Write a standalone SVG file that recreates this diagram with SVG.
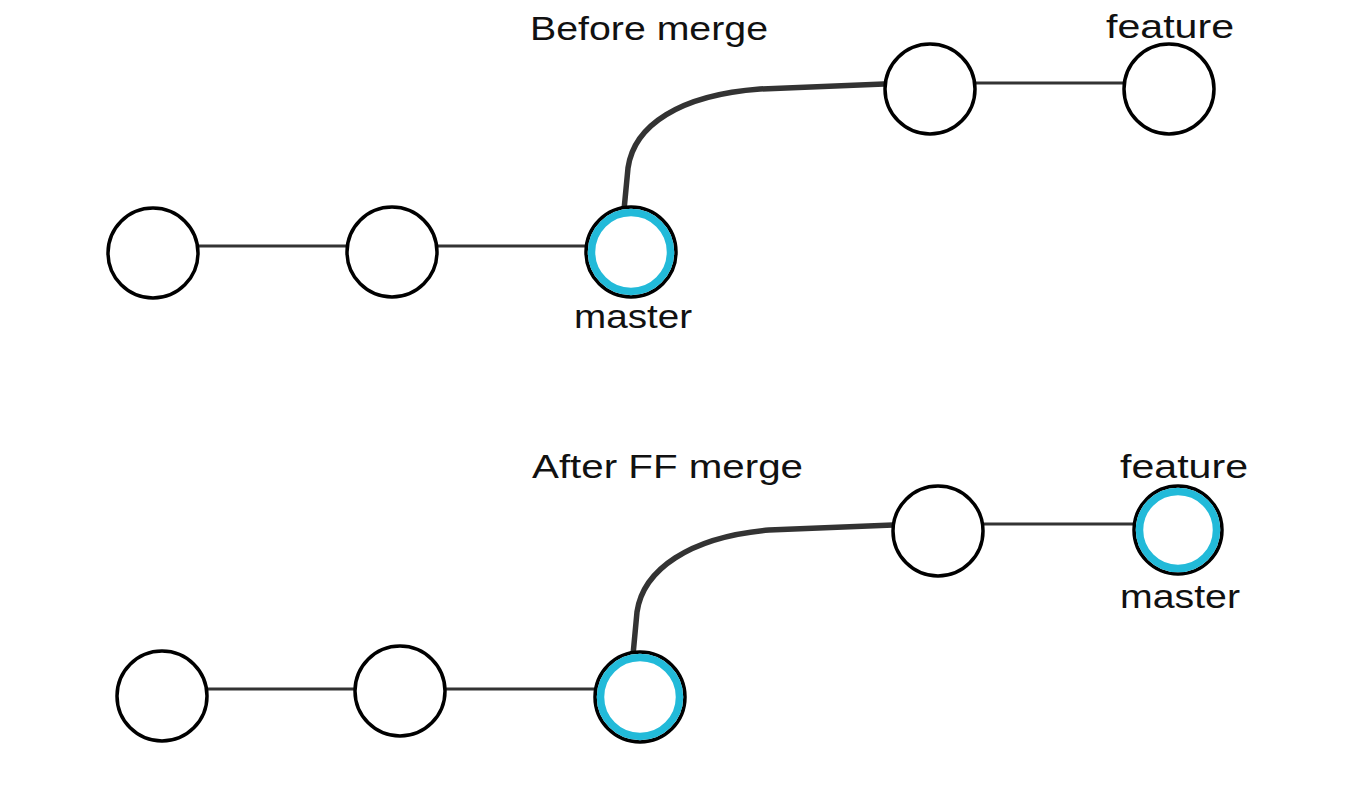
<svg xmlns="http://www.w3.org/2000/svg" width="1349" height="797" viewBox="0 0 1349 797">
<style>
.edge{fill:none;stroke:#333;stroke-width:3;stroke-linecap:round}
.branch{fill:none;stroke:#333;stroke-width:5.5;stroke-linecap:round}
.commit{fill:#fff;stroke:#000;stroke-width:3.5}
.ring{fill:none;stroke:#22bad9;stroke-width:7.5}
.lbl{font-family:"Liberation Sans",Arial,sans-serif;font-size:34px;fill:#111}
</style>
<rect width="1349" height="797" fill="#fff"/>
<g id="connectors">
<line class="edge" x1="198" y1="246" x2="347" y2="246"/>
<line class="edge" x1="437" y1="246" x2="585" y2="246"/>
<line class="edge" x1="976" y1="83" x2="1123" y2="83"/>
<path class="branch" d="M624 210 L628 168 C634 125 680 95 760 89 L884 84"/>
<line class="edge" x1="207" y1="689" x2="355" y2="689"/>
<line class="edge" x1="445" y1="689" x2="594" y2="689"/>
<line class="edge" x1="983" y1="524" x2="1133" y2="524"/>
<path class="branch" d="M633 655 L637 612 C643 570 689 537 769 530 L893 525"/>
</g>
<g id="top-c1"><circle class="commit" cx="153" cy="253" r="45"/></g>
<g id="top-c2"><circle class="commit" cx="392" cy="252" r="45"/></g>
<g id="top-c3"><circle class="commit" cx="631" cy="252" r="45"/><circle class="ring" cx="631" cy="252" r="39.5"/></g>
<g id="top-c4"><circle class="commit" cx="930" cy="89" r="45"/></g>
<g id="top-c5"><circle class="commit" cx="1169" cy="89" r="45"/></g>
<g id="bot-c1"><circle class="commit" cx="162" cy="696" r="45"/></g>
<g id="bot-c2"><circle class="commit" cx="400" cy="691" r="45"/></g>
<g id="bot-c3"><circle class="commit" cx="640" cy="697" r="45"/><circle class="ring" cx="640" cy="697" r="39.5"/></g>
<g id="bot-c4"><circle class="commit" cx="938" cy="531" r="45"/></g>
<g id="bot-c5"><circle class="commit" cx="1178" cy="530" r="44"/><circle class="ring" cx="1178" cy="530" r="38.5"/></g>
<g id="labels">
<text class="lbl" x="530" y="40" textLength="238" lengthAdjust="spacingAndGlyphs">Before merge</text>
<text class="lbl" x="574" y="328" textLength="118" lengthAdjust="spacingAndGlyphs">master</text>
<text class="lbl" x="1106" y="38" textLength="128" lengthAdjust="spacingAndGlyphs">feature</text>
<text class="lbl" x="532" y="478" textLength="271" lengthAdjust="spacingAndGlyphs">After FF merge</text>
<text class="lbl" x="1120" y="478" textLength="128" lengthAdjust="spacingAndGlyphs">feature</text>
<text class="lbl" x="1120" y="608" textLength="120" lengthAdjust="spacingAndGlyphs">master</text>
</g>
</svg>
